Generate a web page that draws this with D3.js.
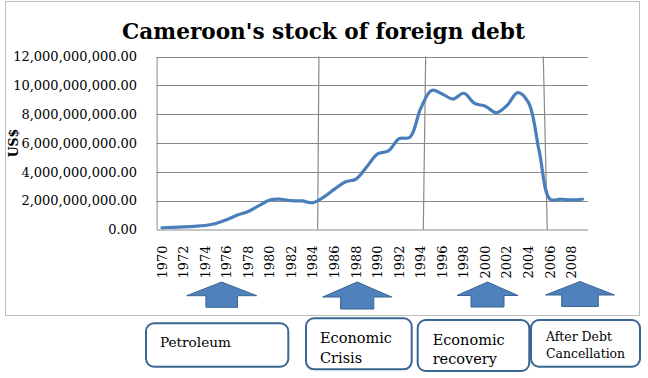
<!DOCTYPE html>
<html><head><meta charset="utf-8">
<script src="https://cdn.jsdelivr.net/npm/d3@7"></script>
<style>
html,body{margin:0;padding:0;background:#fff;}
svg{display:block;}
text{font-family:"DejaVu Serif",serif;fill:#000;}
</style></head>
<body>
<script>
// ---- data ----
const years = d3.range(1970, 2010);
const debtBillions = [0.12,0.15,0.18,0.22,0.28,0.42,0.68,1.0,1.25,1.65,2.05,2.1,2.0,1.98,1.86,2.25,2.8,3.3,3.5,4.35,5.25,5.45,6.3,6.4,8.4,9.65,9.4,9.05,9.45,8.75,8.55,8.1,8.6,9.5,8.8,5.4,2.1,2.1,2.05,2.1];
const debtValues = debtBillions.map(v => v * 1e9);
const yTicks = [0, 2e9, 4e9, 6e9, 8e9, 1e10, 1.2e10];
const xTickYears = d3.range(1970, 2010, 2);
const periodSeparators = [[1984.56, 1984.44], [1994.46, 1994.24], [2005.37, 2005.74]];
const periodLabels = [["Petroleum"], ["Economic", "Crisis"], ["Economic", "recovery"], ["After Debt", "Cancellation"]];
const titleText = "Cameroon's stock of foreign debt";
const yAxisTitle = "US$";

// ---- layout ----
const W = 648, H = 378;
const plot = {left: 156.6, right: 587.8, top: 56.5, bottom: 229.5};
const svg = d3.select("body").append("svg").attr("width", W).attr("height", H);

function fitSize(el, target) {
  const w = el.getComputedTextLength();
  return parseFloat(d3.select(el).attr("font-size")) * target / w;
}
function fit(sel, target) { sel.attr("font-size", fitSize(sel.node(), target)); }

// chart frame
svg.append("rect").attr("x", 5.5).attr("y", 1.5).attr("width", 634).attr("height", 314)
  .attr("fill", "#fff").attr("stroke", "#bdbdbd").attr("stroke-width", 1);

const x = d3.scaleBand().domain(years).range([plot.left, plot.right]);
const xc = d => x(d) + x.bandwidth() / 2;
const xl = d3.scaleLinear().domain([1970, 2009]).range([xc(1970), xc(2009)]);
const y = d3.scaleLinear().domain([0, 1.2e10]).range([plot.bottom, plot.top]);

// horizontal gridlines
svg.append("g").selectAll("line").data(yTicks.slice(1)).join("line")
  .attr("x1", plot.left).attr("x2", plot.right)
  .attr("y1", d => Math.round(y(d)) + 0.5).attr("y2", d => Math.round(y(d)) + 0.5)
  .attr("stroke", "#8a8a8a").attr("stroke-width", 1);

// y axis
const yAxis = svg.append("g").attr("transform", `translate(${plot.left},0)`)
  .call(d3.axisLeft(y).tickValues(yTicks).tickFormat(d3.format(",.2f")).tickSize(0).tickPadding(19.5));
yAxis.select(".domain").attr("stroke", "#8a8a8a");
yAxis.selectAll("text").attr("font-size", 12).attr("font-family", "DejaVu Serif").attr("fill", "#1a1a1a");
{
  const big = yAxis.selectAll("text").filter(d => d === 1.2e10).node();
  const fs = fitSize(big, 124);
  yAxis.selectAll("text").attr("font-size", fs);
}

// x axis
const xAxis = svg.append("g").attr("transform", `translate(0,${plot.bottom})`)
  .call(d3.axisBottom(x).tickValues(xTickYears).tickSize(0).tickFormat(d3.format("d")));
xAxis.select(".domain").attr("stroke", "#8a8a8a");
xAxis.selectAll("text")
  .attr("font-size", 12.6).attr("font-family", "DejaVu Serif").attr("fill", "#1a1a1a")
  .attr("text-anchor", "end")
  .attr("transform", "translate(0,16) rotate(-90)")
  .attr("x", 0).attr("y", 0).attr("dy", "0.35em");
{
  const fs = fitSize(xAxis.select("text").node(), 33);
  xAxis.selectAll("text").attr("font-size", fs);
}

// period separators
svg.append("g").selectAll("line").data(periodSeparators).join("line")
  .attr("x1", d => xl(d[0])).attr("y1", plot.top)
  .attr("x2", d => xl(d[1])).attr("y2", plot.bottom)
  .attr("stroke", "#8a8a8a").attr("stroke-width", 1.2);

// data line
const line = d3.line().x((d, i) => xc(years[i])).y(d => y(d)).curve(d3.curveCatmullRom.alpha(0.5));
svg.append("path").datum(debtValues).attr("d", line)
  .attr("fill", "none").attr("stroke", "#4a7ebb").attr("stroke-width", 3.2)
  .attr("stroke-linejoin", "round").attr("stroke-linecap", "round");

// title
const t = svg.append("text").attr("x", 323.5).attr("y", 38.5).attr("text-anchor", "middle")
  .attr("font-weight", "bold").attr("font-size", 24).text(titleText);
fit(t, 403);

// y axis title
svg.append("text").attr("transform", "translate(18,143) rotate(-90)")
  .attr("text-anchor", "middle").attr("font-weight", "bold").attr("font-size", 12.5).text(yAxisTitle);

// arrows
const arrows = [
  {cx: 221.7, hw: 35, sw: 15.8, top: 282, mid: 295.7, bot: 307.3},
  {cx: 357.2, hw: 34.5, sw: 16.6, top: 282, mid: 297, bot: 309},
  {cx: 487.5, hw: 30.5, sw: 16.5, top: 282, mid: 295.5, bot: 307},
  {cx: 580, hw: 34.5, sw: 18.3, top: 281.5, mid: 295, bot: 306.5}
];
svg.append("g").selectAll("path").data(arrows).join("path")
  .attr("d", a => `M${a.cx},${a.top} L${a.cx + a.hw},${a.mid} L${a.cx + a.sw},${a.mid} L${a.cx + a.sw},${a.bot} L${a.cx - a.sw},${a.bot} L${a.cx - a.sw},${a.mid} L${a.cx - a.hw},${a.mid} Z`)
  .attr("fill", "#4f81bd").attr("stroke", "#3b6592").attr("stroke-width", 1);

// label boxes
const boxes = [
  {x: 146, y: 323.3, w: 142.3, h: 43.4, tx: 160, lines: [346.7], target: 71, fs: 14},
  {x: 306, y: 318.3, w: 105.7, h: 51, tx: 320, lines: [343, 363.3], target: 72, fs: 14.5},
  {x: 417.7, y: 320, w: 111.6, h: 51, tx: 432.7, lines: [345, 364.3], target: 72, fs: 14.5},
  {x: 531, y: 320, w: 109, h: 46.7, tx: 546, lines: [341, 357.7], target: 66, fs: 12.3}
];
boxes.forEach((b, i) => {
  svg.append("rect").attr("x", b.x).attr("y", b.y).attr("width", b.w).attr("height", b.h)
    .attr("rx", 8).attr("ry", 8).attr("fill", "#fff").attr("stroke", "#3b6592").attr("stroke-width", 2);
  let fsUsed = b.fs;
  periodLabels[i].forEach((s, j) => {
    const el = svg.append("text").attr("x", b.tx).attr("y", b.lines[j]).attr("font-size", fsUsed).attr("fill", "#1a1a1a").text(s);
    if (j === 0) { fit(el, b.target); fsUsed = parseFloat(el.attr("font-size")); }
  });
});
</script>
</body></html>
